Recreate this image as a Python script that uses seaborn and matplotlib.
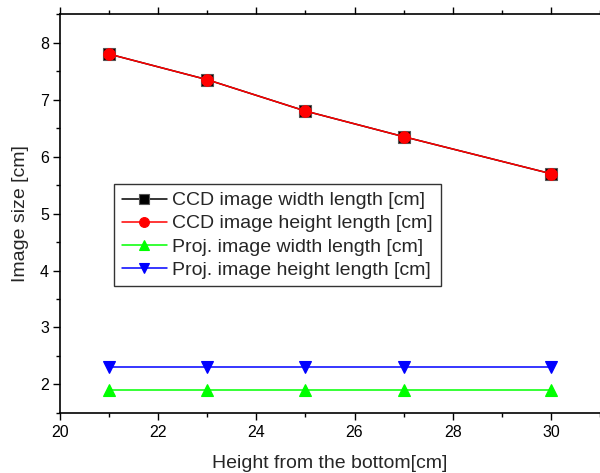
import matplotlib
matplotlib.use("Agg")
import matplotlib.pyplot as plt
import seaborn as sns
import pandas as pd
from matplotlib.ticker import MultipleLocator

x_height = [21, 23, 25, 27, 30]
ccd_width = [7.8, 7.35, 6.8, 6.35, 5.7]
ccd_height = [7.8, 7.35, 6.8, 6.35, 5.7]
proj_width = [1.9, 1.9, 1.9, 1.9, 1.9]
proj_height = [2.3, 2.3, 2.3, 2.3, 2.3]
labels = ["CCD image width length [cm]", "CCD image height length [cm]",
          "Proj. image width length [cm]", "Proj. image height length [cm]"]

sns.set_style("ticks")
plt.rcParams['font.family'] = ['Liberation Sans', 'DejaVu Sans']

fig = plt.figure(figsize=(6.0, 4.73), dpi=100)
ax = fig.add_axes([0.1, 0.127, 0.9, 0.843])

series = [
    (ccd_width, labels[0], "black", "s", "#555555"),
    (ccd_height, labels[1], "red", "o", "red"),
    (proj_width, labels[2], "#00FF00", "^", "#00FF00"),
    (proj_height, labels[3], "blue", "v", "blue"),
]
for vals, lab, col, mk, ec in series:
    df = pd.DataFrame({"x": x_height, "y": vals})
    sns.lineplot(data=df, x="x", y="y", ax=ax, color=col, marker=mk,
                 markersize=8.3, markeredgecolor=ec, markeredgewidth=0.8,
                 linewidth=1.1, label=lab)

ax.set_xlim(20, 31)
ax.set_ylim(1.5, 8.5)
ax.xaxis.set_major_locator(MultipleLocator(2))
ax.xaxis.set_minor_locator(MultipleLocator(1))
ax.yaxis.set_major_locator(MultipleLocator(1))
ax.yaxis.set_minor_locator(MultipleLocator(0.5))
ax.tick_params(which="both", direction="out", top=True, labelsize=11.5, width=1, colors="black")
ax.tick_params(which="major", length=5)
ax.tick_params(which="minor", length=3)
ax.tick_params(axis="x", pad=4)
ax.tick_params(axis="y", pad=3)
for s in ["left", "bottom", "top"]:
    ax.spines[s].set_color("black")
    ax.spines[s].set_linewidth(1.2)
ax.spines["right"].set_visible(False)

ax.set_xlabel("Height from the bottom[cm]", fontsize=14, labelpad=10.5)
ax.set_ylabel("Image size [cm]", fontsize=14, labelpad=8)

leg = ax.legend(loc="upper left", bbox_to_anchor=(0.1, 0.574), borderaxespad=0,
                fontsize=14, frameon=True, fancybox=False, edgecolor="black",
                handlelength=2.3, handletextpad=0.3, labelspacing=0.28,
                borderpad=0.4, markerscale=0.85)
leg.get_frame().set_linewidth(1.0)

fig.savefig("out.png", dpi=100)
